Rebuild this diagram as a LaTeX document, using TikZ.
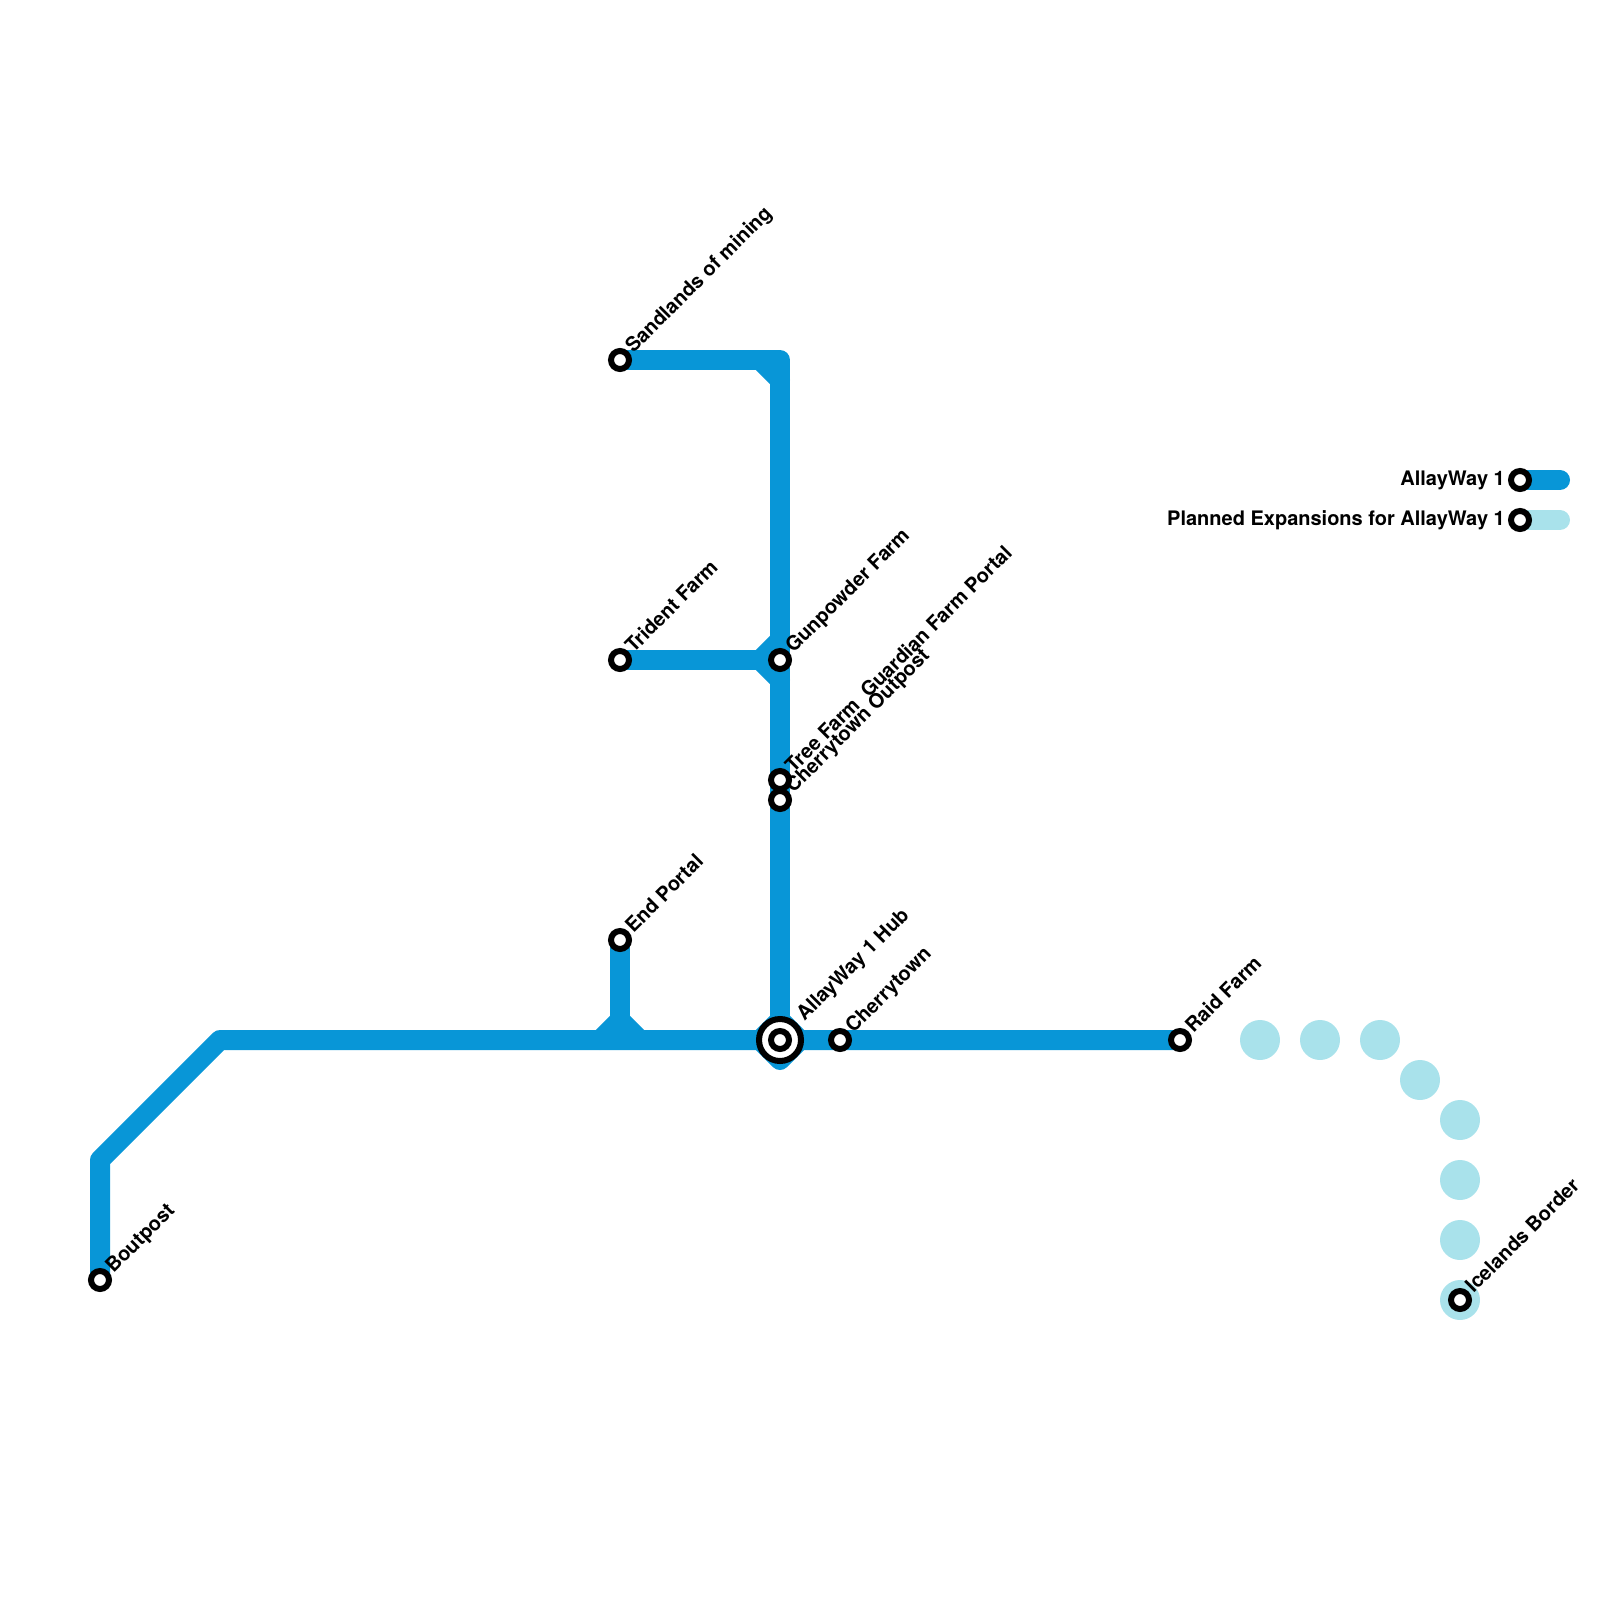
\documentclass[tikz,border=0pt]{standalone}
\usepackage{fontspec}
\setmainfont{TeX Gyre Heros}
\usetikzlibrary{backgrounds}
\definecolor{lineblue}{HTML}{0896D7}
\definecolor{planned}{HTML}{A9E2EB}
\tikzset{x=1pt,y=-1pt,
 route/.style={draw=lineblue,line width=20pt,line cap=round,line join=round},
 plan/.style={draw=planned,line width=20pt,line cap=round,line join=round},
 planspot/.style={circle,fill=planned,minimum size=40pt,inner sep=0pt,outer sep=0pt},
 stop/.style={circle,draw=black,fill=white,line width=6pt,minimum size=18pt,inner sep=0pt,outer sep=0pt},
 hubring/.style={circle,draw=black,fill=white,line width=6pt,minimum size=42pt,inner sep=0pt,outer sep=0pt},
 lab/.style={font=\fontsize{20pt}{20pt}\selectfont\bfseries,text=black,inner sep=0pt,rotate=45,anchor=base west},
 leg/.style={font=\fontsize{20pt}{20pt}\selectfont\bfseries,text=black,inner sep=0pt,anchor=base east}}
\begin{document}
\begin{tikzpicture}
\useasboundingbox (0,0) rectangle (1600,1600);
% waypoints
\coordinate (bend1) at (100,1160);
\coordinate (bend2) at (220,1040);
\coordinate (topc) at (780,360);
\coordinate (j1) at (620,1020);
\coordinate (j1l) at (600,1040);
\coordinate (j1r) at (640,1040);
\coordinate (j2) at (760,660);
\coordinate (j2u) at (780,640);
\coordinate (j2d) at (780,680);
\coordinate (j3) at (760,360);
\coordinate (j3d) at (780,380);
\coordinate (hl) at (760,1040);
\coordinate (hr) at (800,1040);
\coordinate (ht) at (780,1020);
\coordinate (hb) at (780,1060);
\coordinate (legae) at (1560,480);
\coordinate (legbe) at (1560,520);
% stations
\node[stop] (bout) at (100,1280) {};
\node[stop] (sand) at (620,360) {};
\node[stop] (trid) at (620,660) {};
\node[stop] (gunp) at (780,660) {};
\node[stop] (tree) at (780,780) {};
\node[stop] (cout) at (780,800) {};
\node[stop] (endp) at (620,940) {};
\node[stop] (cher) at (840,1040) {};
\node[stop] (raid) at (1180,1040) {};
\node[stop] (ice) at (1460,1300) {};
\node[stop] (lega) at (1520,480) {};
\node[stop] (legb) at (1520,520) {};
\node[hubring] (hub) at (780,1040) {};
\node[stop] (hubin) at (780,1040) {};
% lines and planned spots, beneath the stations
\begin{scope}[on background layer]
\path[route] (bout.center) -- (bend1) -- (bend2) -- (hub.center) -- (raid.center);
\path[route] (sand.center) -- (topc) -- (hub.center);
\path[route] (trid.center) -- (gunp.center);
\path[route] (endp.center) -- (j1);
\path[route] (j1l) -- (j1) -- (j1r);
\path[route] (j2u) -- (j2) -- (j2d);
\path[route] (j3) -- (j3d);
\path[route] (hl) -- (ht) -- (hr) -- (hb) -- cycle;
\path[route] (lega.center) -- (legae);
\path[plan] (legb.center) -- (legbe);
\foreach \n/\p in {p1/{1260,1040},p2/{1320,1040},p3/{1380,1040},p4/{1420,1080},p5/{1460,1120},p6/{1460,1180},p7/{1460,1240},p8/{1460,1300}}
  \node[planspot] (\n) at (\p) {};
\end{scope}
% labels
\node[lab] (l1) at (113.5,1274) {Boutpost};
\node[lab] (l2) at (633.5,354) {Sandlands of mining};
\node[lab] (l3) at (633.5,654) {Trident Farm};
\node[lab] (l4) at (793.5,654) {Gunpowder Farm};
\node[lab] (l5) at (793.5,774) {Tree Farm\ \ Guardian Farm Portal};
\node[lab] (l6) at (793.5,794) {Cherrytown Outpost};
\node[lab] (l7) at (633.5,934) {End Portal};
\node[lab] (l8) at (804.5,1022) {AllayWay 1 Hub};
\node[lab] (l9) at (853.5,1034) {Cherrytown};
\node[lab] (l10) at (1193.5,1034) {Raid Farm};
\node[lab] (l11) at (1473.5,1294) {Icelands Border};
\node[leg] (l12) at (1505,485) {AllayWay 1};
\node[leg] (l13) at (1505,525) {Planned Expansions for AllayWay 1};
\end{tikzpicture}
\end{document}
